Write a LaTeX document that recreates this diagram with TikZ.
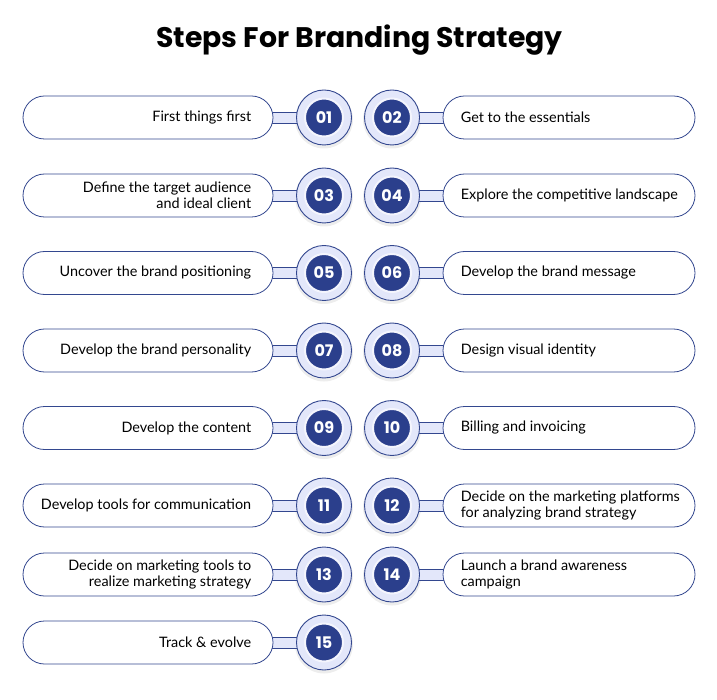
\documentclass[tikz,border=0pt]{standalone}
\usepackage{fontspec}
\setmainfont{Lato}
\newfontfamily\titlefont{Poppins}
\usetikzlibrary{backgrounds}
\definecolor{navy}{HTML}{2B3F8C}
\definecolor{lav}{HTML}{E3E7FA}
\definecolor{edge}{HTML}{33478F}
\tikzset{
  pill/.style={draw=edge, line width=0.8pt, fill=white, rounded corners=21.5pt,
    minimum height=43pt, inner sep=0pt},
  lpill/.style={pill, minimum width=250pt},
  rpill/.style={pill, minimum width=252pt},
  label/.style={font=\fontsize{14.4}{16.5}\selectfont, inner sep=0pt},
  ltext/.style={label, align=right, anchor=east},
  rtext/.style={label, align=left, anchor=west},
  ring/.style={circle, draw=edge, line width=0.9pt, fill=lav, minimum size=55pt, inner sep=0pt},
  num/.style={circle, fill=navy, draw=white!60!lav, line width=2pt, minimum size=38pt, inner sep=0pt, text=white,
    font=\titlefont\bfseries\fontsize{16}{16}\selectfont},
  bar/.style={draw=edge, line width=0.6pt, fill=lav},
  shade/.style={fill=black, opacity=0.07}
}
\newcommand\lrow[4]{%
  \node[lpill] (p#1) at (148,#2) {};
  \node[ltext] (t#1) at ([xshift=-22pt]p#1.east) {#4};
  \node[ring] (r#1) at (324,#2) {};
  \node[num] (n#1) at (r#1.center) {#3};
  \begin{scope}[on background layer]
    \fill[shade] ([yshift=-2pt]r#1.center) circle (29pt);
    \draw[bar] ([xshift=-8pt,yshift=5.5pt]p#1.east) rectangle ([yshift=-5.5pt]r#1.center);
  \end{scope}}
\newcommand\rrow[4]{%
  \node[rpill] (p#1) at (569,#2) {};
  \node[rtext] (t#1) at ([xshift=18pt]p#1.west) {#4};
  \node[ring] (r#1) at (392,#2) {};
  \node[num] (n#1) at (r#1.center) {#3};
  \begin{scope}[on background layer]
    \fill[shade] ([yshift=-2pt]r#1.center) circle (29pt);
    \draw[bar] ([xshift=8pt,yshift=5.5pt]p#1.west) rectangle ([yshift=-5.5pt]r#1.center);
  \end{scope}}
\begin{document}
\begin{tikzpicture}[x=1pt,y=-1pt]
  \useasboundingbox (0,0) rectangle (717,700);
  \begin{scope}[on background layer]
    \fill[white] (0,0) rectangle (717,700);
  \end{scope}
  \node[font=\titlefont\bfseries\fontsize{28.3}{31}\selectfont, anchor=base] (title) at (359.5,48) {Steps For Branding Strategy};
  \lrow{1}{117.5}{01}{First things first}
  \rrow{2}{117.5}{02}{Get to the essentials}
  \lrow{3}{195.5}{03}{Define the target audience\\and ideal client}
  \rrow{4}{195.5}{04}{Explore the competitive landscape}
  \lrow{5}{273}{05}{Uncover the brand positioning}
  \rrow{6}{273}{06}{Develop the brand message}
  \lrow{7}{350.5}{07}{Develop the brand personality}
  \rrow{8}{350.5}{08}{Design visual identity}
  \lrow{9}{428}{09}{Develop the content}
  \rrow{10}{428}{10}{Billing and invoicing}
  \lrow{11}{505.5}{11}{Develop tools for communication}
  \rrow{12}{505.5}{12}{Decide on the marketing platforms\\for analyzing brand strategy}
  \lrow{13}{574.5}{13}{Decide on marketing tools to\\realize marketing strategy}
  \rrow{14}{574.5}{14}{Launch a brand awareness\\campaign}
  \lrow{15}{642.5}{15}{Track \& evolve}
\end{tikzpicture}
\end{document}
